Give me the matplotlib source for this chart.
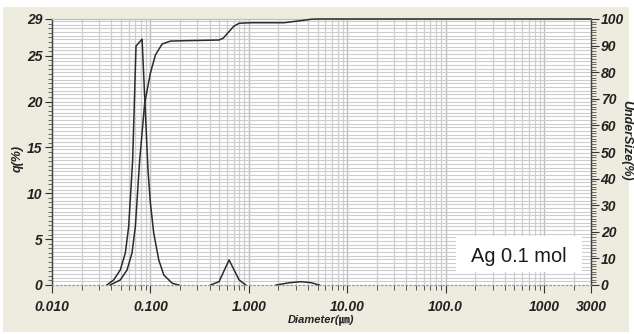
import numpy as np
import matplotlib
matplotlib.use("Agg")
import matplotlib.pyplot as plt
from matplotlib import font_manager
from matplotlib.ticker import FixedLocator, FixedFormatter, MultipleLocator, LogLocator, NullFormatter
from matplotlib.patches import Rectangle

# ---------------- data ----------------
# frequency distribution q(%) (left axis), drawn as separate peaks
q_peak1_d = [0.0361, 0.0423, 0.0494, 0.0556, 0.0601, 0.0660, 0.0714, 0.0823, 0.0945, 0.100, 0.108, 0.1216, 0.1368, 0.1665, 0.1944]
q_peak1 = [0.0, 0.55, 1.64, 3.49, 6.36, 13.6, 26.05, 26.8, 12.5, 8.94, 5.67, 2.73, 1.09, 0.19, 0.0]
q_peak2_d = [0.409, 0.498, 0.630, 0.797, 0.931]
q_peak2 = [0.0, 0.36, 2.73, 0.55, 0.0]
q_peak3_d = [1.89, 2.6, 3.40, 4.3, 5.2]
q_peak3 = [0.0, 0.25, 0.36, 0.25, 0.0]

# cumulative undersize (%) (right axis)
cum_d = [0.0391, 0.0494, 0.0578, 0.0650, 0.0703, 0.0778, 0.0875, 0.100, 0.1125, 0.1316, 0.160, 0.202,
         0.498, 0.55, 0.607, 0.70, 0.797, 1.05, 2.29, 3.40, 4.30, 5.0, 3000]
cum = [0.0, 1.9, 5.6, 12.0, 21.9, 47.0, 68.4, 79.7, 86.5, 90.6, 91.7, 91.8,
       92.1, 92.8, 94.6, 97.2, 98.4, 98.6, 98.6, 99.4, 99.9, 100.0, 100.0]

x_ticks = [0.01, 0.1, 1, 10, 100, 1000, 3000]
x_tick_labels = ["0.010", "0.100", "1.000", "10.00", "100.0", "1000", "3000"]
q_ticks = [0, 5, 10, 15, 20, 25, 29]
u_ticks = [0, 10, 20, 30, 40, 50, 60, 70, 80, 90, 100]

label_text = "Ag 0.1 mol"

# ---------------- fonts ----------------
names = {f.name for f in font_manager.fontManager.ttflist}
narrow = "Liberation Sans Narrow" if "Liberation Sans Narrow" in names else "Liberation Sans"
lab_font = [narrow, "Noto Sans CJK JP", "DejaVu Sans"]

# ---------------- figure ----------------
W, H = 634, 334
fig = plt.figure(figsize=(W / 100, H / 100), dpi=100)
fig.patch.set_facecolor("white")
bg = Rectangle((3 / W, 2 / H), 626 / W, 325 / H, transform=fig.transFigure,
               facecolor="#eeecdf", edgecolor="none", zorder=-10)
fig.patches.append(bg)

L, R, T, B = 52, 591, 19, 285
ax = fig.add_axes([L / W, 1 - B / H, (R - L) / W, (B - T) / H])
ax.set_facecolor("white")
ax.set_xscale("log")
ax.set_xlim(0.01, 3000)
ax.set_ylim(0, 29)

ax2 = ax.twinx()
ax2.set_ylim(0, 100)

# grid
ax.xaxis.set_major_locator(FixedLocator(x_ticks))
ax.xaxis.set_major_formatter(FixedFormatter(x_tick_labels))
ax.xaxis.set_minor_locator(LogLocator(base=10, subs=np.arange(2, 10), numticks=20))
ax.xaxis.set_minor_formatter(NullFormatter())
for xv in ax.xaxis.get_minorticklocs():
    if 0.01 < xv < 3000:
        ax.axvline(xv, color="#cfcfcf", lw=0.9, zorder=0)
for xv in [0.1, 1, 10, 100, 1000]:
    ax.axvline(xv, color="#bdbdbd", lw=1.0, zorder=0)
for yv in np.arange(0.4, 29, 0.4):
    ax.axhline(yv, color="#cdcdcd", lw=0.8, zorder=0)

# curves
for d, q in [(q_peak1_d, q_peak1), (q_peak2_d, q_peak2), (q_peak3_d, q_peak3)]:
    ax.plot(d, q, color="#2b2b2b", lw=1.1, zorder=3, clip_on=False)
ax2.plot(cum_d, cum, color="#2b2b2b", lw=1.1, zorder=3, clip_on=False)

# spines
for a in (ax, ax2):
    a.spines["top"].set_color("#bdbdbd")
    a.spines["bottom"].set_color("#9a9a9a")
    a.spines["bottom"].set_linestyle((0, (1.2, 2.5)))
    a.spines["left"].set_color("#444444")
    a.spines["right"].set_color("#444444")
    a.spines["left"].set_linewidth(0.9)
    a.spines["right"].set_linewidth(0.9)

tick_font = dict(family=narrow, style="italic", weight="bold", size=10)

# left axis
ax.set_yticks(q_ticks)
ax.set_yticklabels([str(v) for v in q_ticks], fontdict=tick_font, color="#222222")
ax.yaxis.set_minor_locator(MultipleLocator(0.5))
ax.tick_params(axis="y", which="major", direction="out", length=5, width=0.8, pad=2, colors="#333333")
ax.tick_params(axis="y", which="minor", direction="out", length=3, width=0.6, colors="#555555")
ax.tick_params(axis="x", which="major", direction="out", length=6, width=0.8, pad=5, colors="#333333")
ax.tick_params(axis="x", which="minor", direction="out", length=3.5, width=0.7, colors="#555555")
for lab in ax.get_xticklabels():
    lab.set_fontproperties(font_manager.FontProperties(**tick_font))
    lab.set_color("#222222")
for lab in ax.get_yticklabels():
    lab.set_color("#222222")

# right axis
ax2.set_yticks(u_ticks)
ax2.set_yticklabels([str(v) for v in u_ticks], fontdict=tick_font, color="#222222")
ax2.yaxis.set_minor_locator(MultipleLocator(1))
ax2.tick_params(axis="y", which="major", direction="out", length=6, width=0.8, pad=1, colors="#333333")
ax2.tick_params(axis="y", which="minor", direction="out", length=3.5, width=0.6, colors="#555555")
for lab in ax2.get_yticklabels():
    lab.set_color("#222222")

# axis labels
fig.text(18 / W, 1 - 158 / H, "q(%)", rotation=90, ha="center", va="center",
         family=lab_font, style="italic", weight="bold", size=9, color="#222222")
fig.text(626 / W, 1 - 140 / H, "UnderSize(%)", rotation=270, ha="center", va="center",
         family=lab_font, style="italic", weight="bold", size=9, color="#222222")
fig.text(321 / W, 1 - 320 / H, "Diameter(\u339b)", ha="center", va="center",
         family=lab_font, style="italic", weight="bold", size=8, color="#222222")

# annotation box
box = Rectangle((456 / W, 1 - 272 / H), 126 / W, 36 / H, transform=fig.transFigure,
                facecolor="white", edgecolor="none", zorder=5)
fig.patches.append(box)
fig.text(519 / W, 1 - 256 / H, label_text, ha="center", va="center",
         family="Liberation Sans", size=14.4, color="#1a1a1a", zorder=6)

fig.savefig("out.png", dpi=100, facecolor=fig.get_facecolor())
